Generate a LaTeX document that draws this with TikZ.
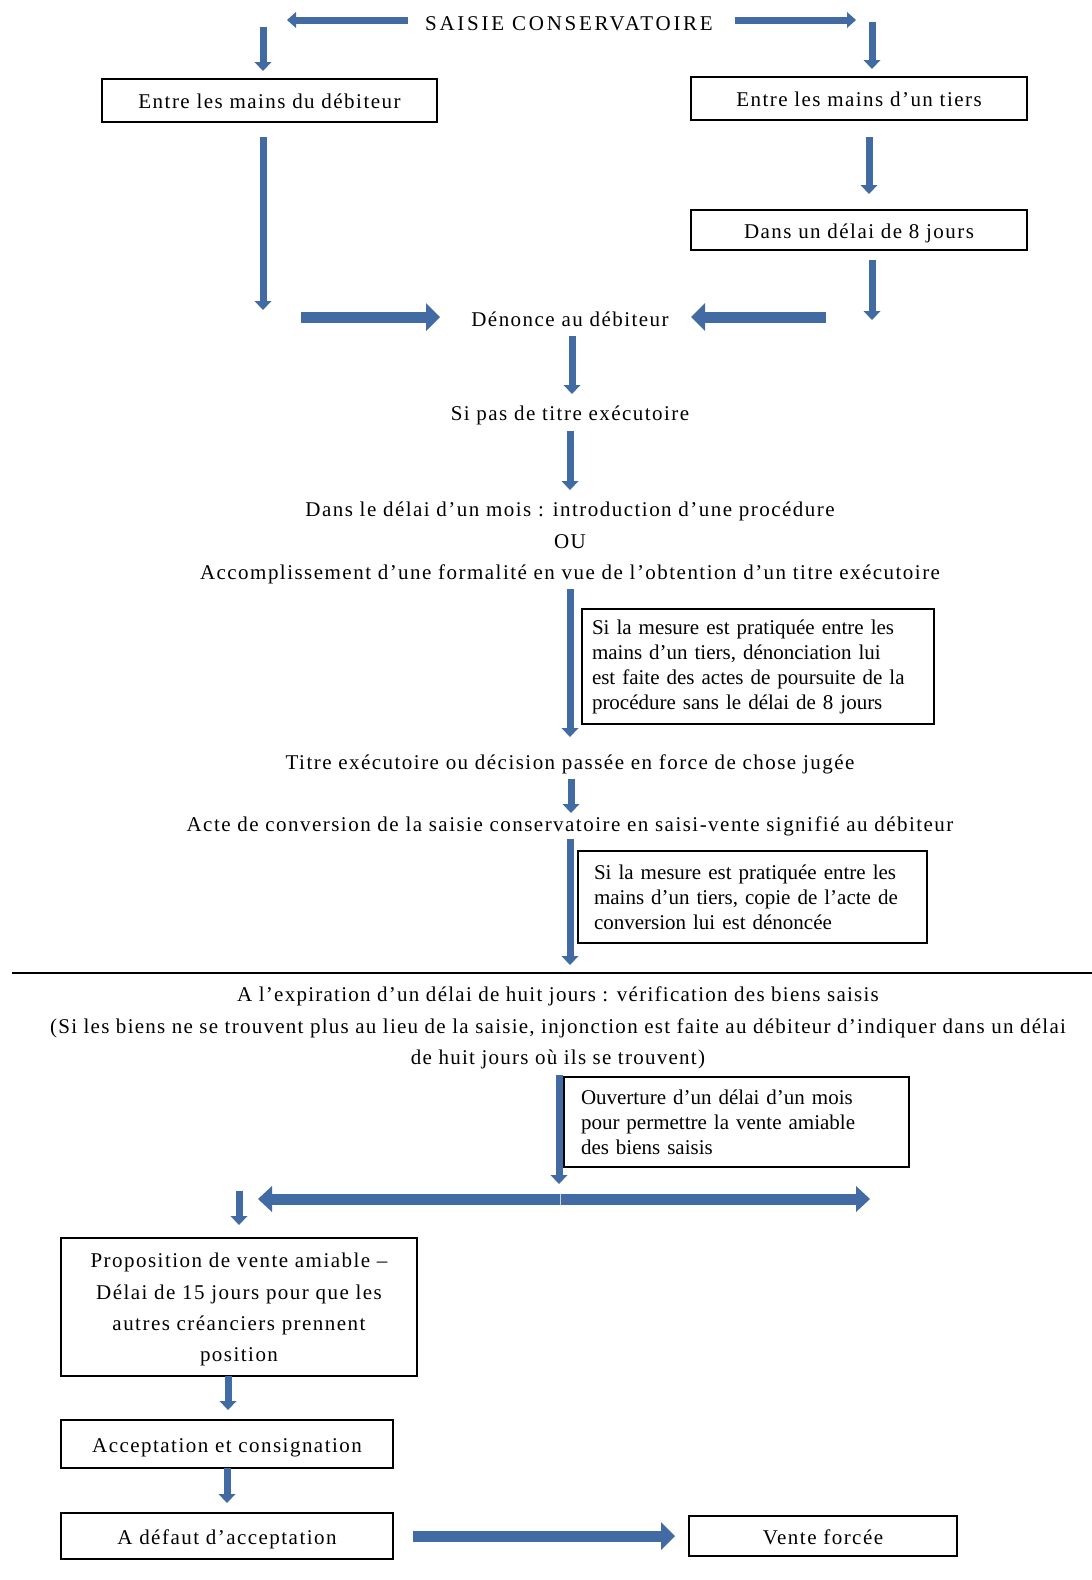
\documentclass[tikz,border=0pt]{standalone}
\usepackage{fontspec}
\setmainfont{Liberation Serif}
\newfontfamily\widefont[LetterSpace=7]{Liberation Serif}
\newfontfamily\parafont[LetterSpace=6]{Liberation Serif}
\newfontfamily\titlefont[LetterSpace=13]{Liberation Serif}
\usetikzlibrary{arrows.meta,calc}
\definecolor{arrowblue}{RGB}{66,107,163}
\tikzset{
  x=1pt, y=-1pt,
  txt/.style={font=\widefont\fontsize{21}{31.3}\selectfont, align=center, inner sep=0pt},
  box/.style={draw=black, line width=1.3pt, font=\widefont\fontsize{21}{31.3}\selectfont, align=center, inner sep=0pt},
  onebox/.style={box, text height=21.5pt, text depth=5pt},
  notebox/.style={draw=black, line width=1.3pt, font=\fontsize{21}{25}\selectfont, align=left, inner ysep=0pt},
  thinarrow/.style={draw=arrowblue, line width=7pt, -{Triangle[length=9pt,width=17pt,line width=0pt,fill=arrowblue]}},
  midarrow/.style={draw=arrowblue, line width=7pt, -{Triangle[length=9pt,width=16pt,line width=0pt,fill=arrowblue]}},
  bigarrow/.style={draw=arrowblue, line width=11pt, -{Triangle[length=14pt,width=28pt,line width=0pt,fill=arrowblue]}},
  widearrow/.style={draw=arrowblue, line width=11pt, -{Triangle[length=14pt,width=26pt,line width=0pt,fill=arrowblue]}},
}
\begin{document}
\begin{tikzpicture}
\path[use as bounding box, fill=white] (0,0) rectangle (1092,1580);

% ---- upper part: the seizure and its notification
\node[txt, font=\titlefont\fontsize{21}{31.3}\selectfont] (saisie) at (569,24) {SAISIE CONSERVATOIRE};
\node[onebox, minimum width=335, minimum height=43] (debiteur) at (269.5,100.5) {Entre les mains du débiteur};
\node[onebox, minimum width=336, minimum height=43] (tiers) at (859,98.5) {Entre les mains d’un tiers};
\node[onebox, minimum width=336, minimum height=40] (huit) at (859,230) {Dans un délai de 8 jours};
\node[txt] (denonce) at (570,319) {Dénonce au débiteur};
\node[txt] (sipas) at (570,415) {Si pas de titre exécutoire};
\node[txt] (mois) at (570,543) {Dans le délai d’un mois : introduction d’une procédure\\OU\\Accomplissement d’une formalité en vue de l’obtention d’un titre exécutoire};
\node[notebox, text width=332, inner xsep=10pt, minimum height=115] (note1) at (758,666.5)
  {Si la mesure est pratiquée entre les\\mains d’un tiers, dénonciation lui\\est faite des actes de poursuite de la\\procédure sans le délai de 8 jours};
\node[txt] (titre) at (570,764) {Titre exécutoire ou décision passée en force de chose jugée};
\node[txt] (acte) at (570,826) {Acte de conversion de la saisie conservatoire en saisi-vente signifié au débiteur};
\node[notebox, text width=317, inner xsep=16pt, minimum height=92] (note2) at (752.5,897)
  {Si la mesure est pratiquée entre les\\mains d’un tiers, copie de l’acte de\\conversion lui est dénoncée};

% ---- separation
\coordinate (ruleL) at (12,973);
\coordinate (ruleR) at (1092,973);
\draw[line width=1.2pt] (ruleL) -- (ruleR);

% ---- lower part: verification and sale
\node[txt, font=\parafont\fontsize{21}{31.3}\selectfont] (expir) at (558,1028)
  {A l’expiration d’un délai de huit jours : vérification des biens saisis\\(Si les biens ne se trouvent plus au lieu de la saisie, injonction est faite au débiteur d’indiquer dans un délai\\de huit jours où ils se trouvent)};
\node[notebox, text width=311, inner xsep=17pt, minimum height=90] (note3) at (736.5,1122)
  {Ouverture d’un délai d’un mois\\pour permettre la vente amiable\\des biens saisis};
\node[box, minimum width=356, minimum height=138] (propo) at (239,1307)
  {\rule{0pt}{20pt}Proposition de vente amiable –\\Délai de 15 jours pour que les\\autres créanciers prennent\\position};
\node[onebox, minimum width=332, minimum height=48] (accept) at (227,1444) {Acceptation et consignation};
\node[onebox, minimum width=332, minimum height=46] (defaut) at (227,1536) {A défaut d’acceptation};
\node[onebox, minimum width=268, minimum height=40] (vente) at (823,1536) {Vente forcée};

% ---- arrow end points
\coordinate (s1) at (408,20);   \coordinate (e1) at (287,20);
\coordinate (s2) at (735,20);   \coordinate (e2) at (856,20);
\coordinate (s3) at (263,27);   \coordinate (e3) at (263,71);
\coordinate (s4) at (872,22);   \coordinate (e4) at (872,69);
\coordinate (s5) at (869,137);  \coordinate (e5) at (869,194);
\coordinate (s6) at (872,260);  \coordinate (e6) at (872,320);
\coordinate (s7) at (263,137);  \coordinate (e7) at (263,310);
\coordinate (s8) at (301,317);  \coordinate (e8) at (440,317);
\coordinate (s9) at (826,317);  \coordinate (e9) at (691,317);
\coordinate (s10) at (572,336); \coordinate (e10) at (572,394);
\coordinate (s11) at (570,431); \coordinate (e11) at (570,490);
\coordinate (s12) at (570,589); \coordinate (e12) at (570,737);
\coordinate (s13) at (571,779); \coordinate (e13) at (571,813);
\coordinate (s14) at (570,839); \coordinate (e14) at (570,965);
\coordinate (s15) at (559,1075); \coordinate (e15) at (559,1184);
\coordinate (fork) at (560,1199);
\coordinate (forkL) at (258,1199); \coordinate (forkR) at (870,1199);
\coordinate (s17) at (239,1191); \coordinate (e17) at (239,1225);
\coordinate (s18) at (228,1376); \coordinate (e18) at (228,1410);
\coordinate (s19) at (227,1468); \coordinate (e19) at (227,1503);
\coordinate (s20) at (413,1536); \coordinate (e20) at (675,1536);

% ---- arrows
\draw[midarrow] (s1) -- (e1);
\draw[midarrow] (s2) -- (e2);
\draw[thinarrow] (s3) -- (e3);
\draw[thinarrow] (s4) -- (e4);
\draw[thinarrow] (s5) -- (e5);
\draw[thinarrow] (s6) -- (e6);
\draw[thinarrow] (s7) -- (e7);
\draw[bigarrow] (s8) -- (e8);
\draw[bigarrow] (s9) -- (e9);
\draw[thinarrow] (s10) -- (e10);
\draw[thinarrow] (s11) -- (e11);
\draw[thinarrow] (s12) -- (e12);
\draw[thinarrow] (s13) -- (e13);
\draw[thinarrow] (s14) -- (e14);
\draw[thinarrow] (s15) -- (e15);
\draw[widearrow] (fork) -- (forkL);
\draw[widearrow] (fork) -- (forkR);
\draw[white!70!arrowblue, line width=0.8pt] ($(fork)+(0,-5.5)$) -- ($(fork)+(0,5.5)$);
\draw[thinarrow] (s17) -- (e17);
\draw[thinarrow] (s18) -- (e18);
\draw[thinarrow] (s19) -- (e19);
\draw[bigarrow] (s20) -- (e20);
\end{tikzpicture}
\end{document}
